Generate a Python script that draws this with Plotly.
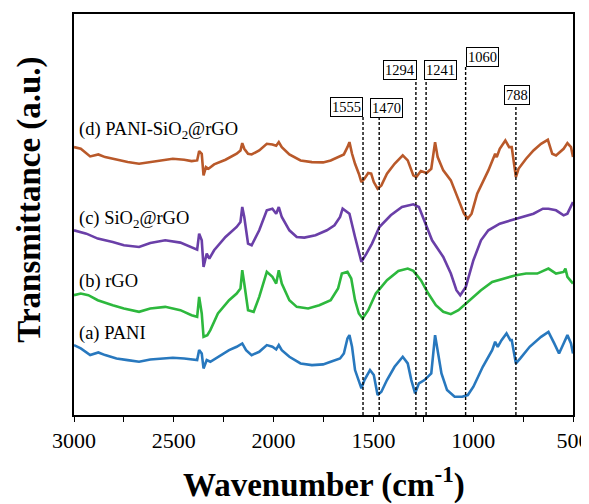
import plotly.graph_objects as go

# ---- data (wavenumber in cm-1, transmittance in a.u.) ----
wn_a = [3000,2966,2919,2878,2844,2787,2731,2674,2618,2561,
        2505,2448,2411,2383,2373,2360,2351,2335,2317,2279,
        2223,2185,2157,2138,2110,2072,2034,2006,1987,1974,
        1959,1921,1865,1808,1752,1714,1667,1648,1630,1620,
        1607,1592,1573,1560,1545,1517,1498,1479,1460,1432,
        1394,1353,1328,1310,1291,1272,1244,1210,1191,1178,
        1159,1131,1093,1055,1027,999,952,905,890,877,
        858,833,814,807,786,764,717,660,623,594,
        570,547,528,510,500]
t_a = [21.0,20.0,18.0,18.8,18.0,17.0,16.5,16.0,16.7,17.0,
       17.2,17.0,16.8,16.5,19.5,18.5,14.0,16.5,16.0,17.5,
       19.5,20.5,21.5,19.5,18.0,19.0,21.0,20.5,19.7,21.0,
       19.5,17.5,15.5,15.0,15.2,16.0,17.0,18.5,23.0,24.0,
       20.5,13.5,10.5,8.0,10.5,13.5,12.0,6.0,7.0,10.5,
       14.5,17.5,15.5,10.5,6.5,9.5,10.5,12.5,24.0,19.5,
       12.5,7.5,5.5,5.5,6.0,8.5,14.5,19.5,22.0,20.5,
       22.5,24.5,22.5,22.5,15.5,17.0,20.5,23.5,25.0,21.5,
       18.5,21.5,24.0,21.5,18.5]

wn_b = [3000,2966,2928,2881,2806,2750,2674,2618,2543,2467,
        2411,2383,2373,2360,2351,2332,2317,2279,2223,2185,
        2166,2157,2147,2128,2100,2072,2034,2006,1987,1974,
        1959,1921,1884,1827,1771,1714,1677,1658,1630,1611,
        1592,1573,1554,1526,1488,1432,1375,1328,1300,1262,
        1225,1187,1150,1112,1074,1018,961,905,848,786,
        735,679,623,585,547,538,528,500]
t_b = [36.0,36.5,36.0,34.5,33.0,32.0,31.0,32.0,32.5,31.5,
       30.0,29.5,35.5,30.5,23.5,24.0,25.5,30.5,34.5,36.5,
       38.0,43.5,39.5,31.5,31.0,35.5,43.0,41.5,39.5,43.5,
       39.5,34.5,32.5,32.0,33.0,34.5,38.0,42.5,43.0,41.0,
       34.5,30.5,29.0,31.5,36.5,40.5,43.3,44.0,43.3,40.5,
       36.5,33.0,31.0,30.3,31.5,34.5,37.5,40.0,41.0,42.0,
       42.5,42.5,44.0,42.5,43.0,44.0,41.5,39.5]

wn_c = [3000,2938,2881,2806,2750,2674,2618,2543,2467,2411,
        2383,2373,2360,2351,2335,2322,2298,2241,2185,2166,
        2157,2147,2128,2110,2072,2034,2006,1987,1974,1959,
        1921,1884,1846,1790,1733,1695,1667,1654,1620,1592,
        1573,1560,1535,1507,1470,1413,1357,1300,1272,1244,
        1206,1150,1112,1084,1065,1037,999,961,924,867,
        811,754,698,651,623,585,547,528,500]
t_c = [55.5,54.5,53.0,52.0,51.0,50.5,51.7,52.5,51.8,50.5,
       49.7,54.5,52.5,44.5,48.5,47.0,49.5,53.5,56.5,58.0,
       62.5,59.5,51.5,51.0,55.5,61.5,62.0,60.5,62.5,59.5,
       55.5,53.5,53.3,54.0,55.5,57.0,59.5,62.0,60.5,53.5,
       49.5,46.0,48.5,51.5,56.5,60.0,62.5,63.3,62.5,58.5,
       52.5,47.5,42.5,37.5,36.0,38.5,46.5,52.5,55.5,57.5,
       58.5,59.5,60.5,62.0,62.0,61.5,60.0,60.5,64.0]

wn_d = [3000,2966,2919,2878,2844,2787,2731,2674,2618,2561,
        2505,2448,2411,2383,2373,2360,2351,2339,2326,2298,
        2241,2185,2166,2157,2147,2128,2110,2072,2034,2006,
        1987,1974,1959,1921,1865,1808,1752,1714,1677,1648,
        1630,1620,1607,1592,1573,1560,1545,1526,1511,1498,
        1479,1460,1432,1394,1353,1328,1300,1285,1262,1234,
        1210,1191,1178,1150,1112,1074,1046,1027,1008,980,
        924,890,882,867,839,820,807,786,773,735,
        698,660,626,604,585,547,528,510,500]
t_d = [80.5,80.0,77.7,78.3,77.5,76.7,76.0,75.5,76.0,76.7,
       77.0,76.7,76.3,76.5,79.3,78.5,72.0,74.5,74.0,75.3,
       76.7,78.5,79.5,81.7,80.0,78.5,78.3,79.5,81.5,81.3,
       80.9,82.0,80.5,78.3,76.5,76.0,75.9,76.5,77.5,78.3,
       80.5,82.0,78.5,75.5,72.5,70.0,71.0,72.7,72.5,70.0,
       68.0,69.0,72.5,75.5,78.0,76.5,72.0,71.5,73.3,72.7,
       74.0,82.0,77.5,73.5,70.5,64.5,60.5,59.0,60.5,66.5,
       73.5,78.5,77.5,80.0,82.5,80.5,80.5,71.5,74.0,77.0,
       79.5,81.5,82.7,78.5,78.0,80.0,81.7,80.5,77.5]

series_names = ["(a) PANI", "(b) rGO", "(c) SiO<sub>2</sub>@rGO", "(d) PANI-SiO<sub>2</sub>@rGO"]
series_x = [wn_a, wn_b, wn_c, wn_d]
series_y = [t_a, t_b, t_c, t_d]

# peak marker positions (as drawn) and their labels
peak_lines = [1552, 1471, 1287, 1236, 1038, 786]
peak_labels = ["1555", "1470", "1294", "1241", "1060", "788"]

x_ticks = [3000, 2500, 2000, 1500, 1000, 500]

# ---- styling / layout ----
colors = ["#2878be", "#2db83d", "#6a3fa8", "#b9592a"]
label_pos = [(2985, 24.5), (2985, 40.0), (2985, 58.8), (2985, 85.5)]
box_pos = [(1635, 92.7), (1432, 92.3), (1369, 103.7), (1164, 103.7), (953, 107.6), (781, 96.2)]
FONT = "Liberation Serif"

fig = go.Figure()
for xs, ys, c in zip(series_x, series_y, colors):
    fig.add_trace(go.Scatter(x=xs, y=ys, mode="lines",
                             line=dict(color=c, width=2.6), showlegend=False,
                             hoverinfo="skip"))

for xv, (bx, by) in zip(peak_lines, box_pos):
    fig.add_trace(go.Scatter(x=[xv, xv], y=[0, by - 2.7], mode="lines",
                             line=dict(color="black", width=1.4, dash="3px,2px"),
                             showlegend=False, hoverinfo="skip"))

annotations = []
for txt, (lx, ly) in zip(peak_labels, box_pos):
    annotations.append(dict(x=lx, y=ly, xref="x", yref="y", text=txt, showarrow=False,
                            font=dict(family=FONT, size=14.5, color="black"),
                            bordercolor="black", borderwidth=1, borderpad=1,
                            bgcolor="white", xanchor="center", yanchor="middle"))
for name, (lx, ly) in zip(series_names, label_pos):
    annotations.append(dict(x=lx, y=ly, xref="x", yref="y", text=name, showarrow=False,
                            font=dict(family=FONT, size=18.5, color="black"),
                            xanchor="left", yanchor="middle"))

annotations.append(dict(x=0.5, y=-0.168, xref="paper", yref="paper",
                        text="<b>Wavenumber (cm<sup>-1</sup>)</b>", showarrow=False,
                        font=dict(family=FONT, size=33, color="black"),
                        xanchor="center", yanchor="middle"))
annotations.append(dict(x=-0.091, y=0.536, xref="paper", yref="paper",
                        text="<b>Transmittance (a.u.)</b>", showarrow=False, textangle=-90,
                        font=dict(family=FONT, size=33, color="black"),
                        xanchor="center", yanchor="middle"))

# the page body has an 8px margin, so the figure is sized/margined to compensate
fig.update_layout(
    width=581, height=496,
    margin=dict(l=66, r=16, t=6, b=89, pad=0),
    paper_bgcolor="white", plot_bgcolor="white",
    annotations=annotations,
    xaxis=dict(range=[3000, 500], tickvals=x_ticks, ticktext=[str(v) for v in x_ticks],
               showline=True, mirror=True, linecolor="black", linewidth=1.5,
               ticks="outside", ticklen=5, tickwidth=1.2, tickcolor="black",
               ticklabeloverflow="allow", automargin=False,
               minor=dict(dtick=250, ticks="outside", ticklen=5, tickwidth=1.2, tickcolor="black"),
               showgrid=False, zeroline=False,
               tickfont=dict(family=FONT, size=22, color="black")),
    yaxis=dict(range=[0, 120.5], showticklabels=False, ticks="", automargin=False,
               showline=True, mirror=True, linecolor="black", linewidth=1.5,
               showgrid=False, zeroline=False),
)

fig.write_html("out.html")
